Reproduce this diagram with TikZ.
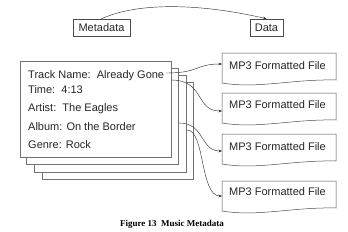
\documentclass[tikz,border=0pt]{standalone}
\usepackage{fontspec}
\setmainfont{Liberation Sans}
\newfontfamily\capfont{Liberation Serif}
\usetikzlibrary{arrows.meta}
\newcommand\mpdoc[3]{% name, top, baseline offset
  \draw[doc] (222,#2) -- (336,#2) -- (336,#2+27)
    .. controls (292,#2+26) and (258,#2+36) .. (222,#2+30) -- cycle;
  \node[lbl] (#1) at (229,#2+#3) {MP3 Formatted File};
}
\begin{document}
\begin{tikzpicture}[x=1bp,y=-1bp,
  font=\fontsize{11bp}{13bp}\selectfont,
  box/.style={draw=black!70, line width=0.5bp, inner sep=0pt, minimum height=17bp, text=black!85},
  card/.style={draw=black!55, fill=white, line width=0.6bp, inner sep=0pt},
  arr/.style={-{Stealth[length=3.5bp,width=2.8bp]}, line width=0.45bp, draw=black!80},
  lbl/.style={anchor=base west, inner sep=0pt, text=black!85},
  doc/.style={draw=black!70, fill=white, line width=0.5bp}]
\useasboundingbox (0,0) rectangle (348,232);
% top boxes
\node[box, minimum width=57bp] (meta) at (101.5,27.5) {Metadata};
\node[box, minimum width=33bp] (data) at (266.5,27.5) {Data};
\draw[arr] (meta.north) .. controls +(40,-18) and +(-60,-14) .. (data.north);
% stacked cards
\node[card, minimum width=151bp, minimum height=97bp] (c4) at (117.5,130.5) {};
\node[card, minimum width=152bp, minimum height=97bp] (c3) at (110,123.5) {};
\node[card, minimum width=152bp, minimum height=96bp] (c2) at (102,116) {};
\node[card, minimum width=151bp, minimum height=96bp] (c1) at (95.5,109) {};
\node[lbl] (t1) at (28,78) {Track Name:\ \ Already Gone};
\node[lbl] (t2) at (28,93) {Time:\ \ 4:13};
\node[lbl] (t3) at (28,111) {Artist:\ \ The Eagles};
\node[lbl] (t4) at (28,130) {Album: On the Border};
\node[lbl] (t5) at (28,148) {Genre: Rock};
% documents
\mpdoc{mp1}{53}{16}
\mpdoc{mp2}{93}{15}
\mpdoc{mp3}{134}{16}
\mpdoc{mp4}{181}{14}
% connector endpoints
\coordinate (s1) at (166,73);
\coordinate (s2) at (171,80);
\coordinate (s3) at (179,123);
\coordinate (s4) at (187,130);
\coordinate (in1) at (222,64);
\coordinate (in2) at (222,111);
\coordinate (in3) at (222,151);
\coordinate (in4) at (222,196);
\draw[arr] (s1) .. controls (200,73) and (195,64) .. (in1);
\draw[arr] (s2) .. controls (205,80) and (195,111) .. (in2);
\draw[arr] (s3) .. controls (205,123) and (200,151) .. (in3);
\draw[arr] (s4) .. controls (205,130) and (200,196) .. (in4);
% caption
\node[font=\capfont\bfseries\fontsize{9bp}{11bp}\selectfont] (cap) at (172,224) {Figure 13\ \ Music Metadata};
\end{tikzpicture}
\end{document}
